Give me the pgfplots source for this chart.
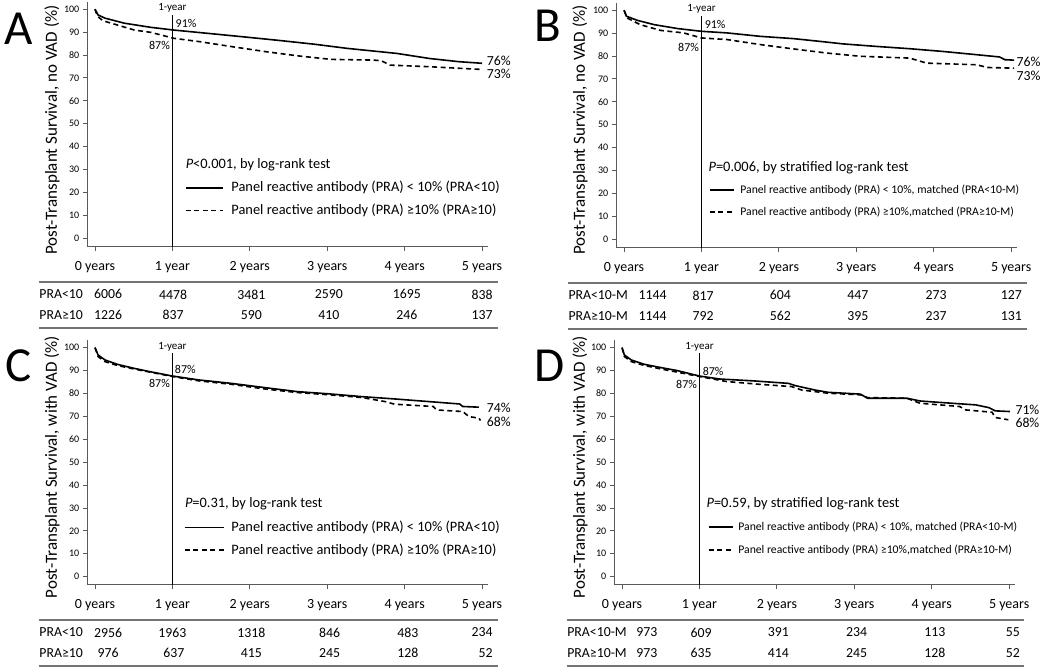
\documentclass[border=0pt]{standalone}
\usepackage{pgfplots}
\pgfplotsset{compat=1.18}
\usepackage{fontspec}
\setmainfont{Carlito}
\tikzset{
  solidkm/.style={black, line width=1.6pt},
  dashkm/.style={black, line width=1.6pt, dash pattern=on 5pt off 3.5pt},
  tab/.style={font=\fontsize{13.8}{16}\selectfont, anchor=center, inner sep=0pt},
  tabl/.style={tab, anchor=west},
  tabr/.style={tab, anchor=east},
  tline/.style={draw=black!55, line width=1.6pt},
  pct/.style={font=\fontsize{12}{14}\selectfont, inner sep=0pt},
  pcte/.style={font=\fontsize{13.8}{16}\selectfont, inner sep=0pt, anchor=west},
  yr/.style={font=\fontsize{11}{13}\selectfont, inner sep=0pt},
  ptext/.style={font=\fontsize{14.4}{17}\selectfont, inner sep=0pt, anchor=west},
  legA/.style={font=\fontsize{14.4}{17}\selectfont, inner sep=0pt, anchor=west},
  legB/.style={font=\fontsize{11.7}{14}\selectfont, inner sep=0pt, anchor=west},
  ylab/.style={font=\fontsize{17}{20}\selectfont, rotate=90, inner sep=0pt},
  letter/.style={font=\fontsize{49}{49}\selectfont, inner sep=0pt},
}
\pgfplotsset{
  km/.style={scale only axis, width=401pt, height=244.6pt,
    xmin=-0.1, xmax=5.08, ymin=-3.6, ymax=103.2, clip=false,
    anchor=south west,
    axis lines=left, axis line style={-, draw=black!65, line width=1pt},
    xtick={0,1,2,3,4,5},
    xticklabels={0 years,1 year,2 years,3 years,4 years,5 years},
    ytick={0,10,20,30,40,50,60,70,80,90,100},
    tick align=outside, major tick length=4.5pt,
    tick style={black!65, line width=0.9pt},
    xticklabel style={font=\fontsize{14}{16}\selectfont, yshift=-6.5pt},
    yticklabel style={font=\fontsize{10}{12}\selectfont},
    /pgf/number format/assume math mode=true},
  yearline/.style={black, line width=1.5pt, forget plot},
}
\begin{document}
\begin{tikzpicture}
\useasboundingbox (0pt,0pt) rectangle (1050pt,-667pt);

% ---------------- Panel A ----------------
\begin{axis}[km, at={(87.26pt,-246.5pt)}]
\addplot[solidkm] coordinates {(0,100) (0.04,97.5) (0.13,96.1) (0.38,93.9) (0.72,92.1) (1.02,90.9) (1.57,89.1) (1.99,87.7) (2.4,86.3) (2.84,84.7) (3.26,82.9) (3.90,80.7) (4.32,78.5) (4.70,77.1) (5.0,76.4)};
\addplot[dashkm] coordinates {(0,100) (0.03,97) (0.1,95) (0.21,93.9) (0.51,90.9) (0.72,89.9) (1.02,87.3) (1.36,85.8) (1.78,83.6) (2.2,81.5) (2.63,79.6) (3.05,78.1) (3.6,77.8) (3.7,77.5) (3.81,75.6) (4.32,74.9) (5.0,73.7)};
\addplot[yearline] coordinates {(1,-3.6) (1,97.5)};
\node[yr] at (axis cs:1,100.5) {1-year};
\node[pct, anchor=west] at (axis cs:1.04,93.6) {91\%};
\node[pct, anchor=east] at (axis cs:0.97,84.4) {87\%};
\node[pcte] at (axis cs:5.06,77.6) {76\%};
\node[pcte] at (axis cs:5.06,71.7) {73\%};
\node[ptext] at (axis cs:1.17,32) {\textit{P}<0.001, by log-rank test};
\draw[solidkm] (axis cs:1.17,22) -- (axis cs:1.65,22);
\node[legA] at (axis cs:1.76,22) {Panel reactive antibody (PRA) < 10\% (PRA<10)};
\draw[dashkm] (axis cs:1.17,12.1) -- (axis cs:1.65,12.1);
\node[legA] at (axis cs:1.76,12.1) {Panel reactive antibody (PRA) ≥10\% (PRA≥10)};
\draw[tline] (axis cs:-0.72,-19.2) -- (axis cs:5.2,-19.2);
\draw[tline] (axis cs:-0.72,-39.1) -- (axis cs:5.2,-39.1);
\node[tabl] at (axis cs:-0.72,-24.5) {PRA<10};
\node[tabl] at (axis cs:-0.72,-33.5) {PRA≥10};
\node[tab] at (axis cs:0.17,-24.5) {6006};
\node[tab] at (axis cs:1.01,-24.5) {4478};
\node[tab] at (axis cs:2.02,-24.5) {3481};
\node[tab] at (axis cs:3.02,-24.5) {2590};
\node[tab] at (axis cs:4.03,-24.5) {1695};
\node[tabr] at (axis cs:5.14,-24.5) {838};
\node[tab] at (axis cs:0.17,-33.5) {1226};
\node[tab] at (axis cs:1.01,-33.5) {837};
\node[tab] at (axis cs:2.02,-33.5) {590};
\node[tab] at (axis cs:3.02,-33.5) {410};
\node[tab] at (axis cs:4.03,-33.5) {246};
\node[tabr] at (axis cs:5.14,-33.5) {137};
\end{axis}

% ---------------- Panel B ----------------
\begin{axis}[km, at={(616.3pt,-247.5pt)}]
\addplot[solidkm] coordinates {(0,100) (0.03,97.4) (0.17,95.6) (0.39,93.7) (0.69,92.0) (1.0,90.8) (1.33,90.1) (1.76,88.6) (2.19,87.6) (2.53,86.4) (2.83,85.3) (3.26,84.2) (3.69,83.2) (4.12,82.0) (4.55,80.6) (4.85,79.6) (4.92,78.4) (5.04,78.2)};
\addplot[dashkm] coordinates {(0,100) (0.04,96.6) (0.21,93.7) (0.47,91.2) (0.77,90.1) (1.0,87.9) (1.33,87.2) (1.76,85.0) (2.19,83.1) (2.62,81.3) (3.05,79.9) (3.69,79.1) (3.8,78) (3.91,76.9) (4.55,76.2) (4.7,75) (5.04,74.7)};
\addplot[yearline] coordinates {(1,-3.6) (1,97.5)};
\node[yr] at (axis cs:1,100.5) {1-year};
\node[pct, anchor=west] at (axis cs:1.04,93.6) {91\%};
\node[pct, anchor=east] at (axis cs:0.97,83.8) {87\%};
\node[pcte] at (axis cs:5.07,77.6) {76\%};
\node[pcte] at (axis cs:5.07,71.3) {73\%};
\node[ptext] at (axis cs:1.09,31.3) {\textit{P}=0.006, by stratified log-rank test};
\draw[solidkm] (axis cs:1.11,21.5) -- (axis cs:1.42,21.5);
\node[legB] at (axis cs:1.50,21.5) {Panel reactive antibody (PRA) < 10\%, matched (PRA<10-M)};
\draw[dashkm] (axis cs:1.11,11.8) -- (axis cs:1.42,11.8);
\node[legB] at (axis cs:1.50,11.8) {Panel reactive antibody (PRA) ≥10\%,matched (PRA≥10-M)};
\draw[tline] (axis cs:-0.72,-19.2) -- (axis cs:5.2,-19.2);
\draw[tline] (axis cs:-0.72,-39.1) -- (axis cs:5.2,-39.1);
\node[tabl] at (axis cs:-0.72,-24.5) {PRA<10-M};
\node[tabl] at (axis cs:-0.72,-33.5) {PRA≥10-M};
\node[tab] at (axis cs:0.37,-24.5) {1144};
\node[tab] at (axis cs:1.02,-24.5) {817};
\node[tab] at (axis cs:2.02,-24.5) {604};
\node[tab] at (axis cs:3.02,-24.5) {447};
\node[tab] at (axis cs:4.03,-24.5) {273};
\node[tabr] at (axis cs:5.14,-24.5) {127};
\node[tab] at (axis cs:0.37,-33.5) {1144};
\node[tab] at (axis cs:1.02,-33.5) {792};
\node[tab] at (axis cs:2.02,-33.5) {562};
\node[tab] at (axis cs:3.02,-33.5) {395};
\node[tab] at (axis cs:4.03,-33.5) {237};
\node[tabr] at (axis cs:5.14,-33.5) {131};
\end{axis}

% ---------------- Panel C ----------------
\begin{axis}[km, at={(87.26pt,-584.9pt)}]
\addplot[solidkm] coordinates {(0,100) (0.04,96.8) (0.13,94.6) (0.29,92.7) (0.5,91.0) (0.71,89.5) (1.0,87.6) (1.34,85.9) (1.76,84.4) (2.18,82.6) (2.61,80.8) (3.03,79.8) (3.45,78.6) (3.87,77.6) (4.29,76.5) (4.71,75.4) (4.75,74.3) (4.96,74.0)};
\addplot[dashkm] coordinates {(0,100) (0.04,96.1) (0.13,93.9) (0.29,92.2) (0.5,90.7) (1.0,87.4) (1.34,85.5) (1.76,84.0) (2.18,82.0) (2.61,80.4) (3.03,79.4) (3.45,78.2) (3.74,76.5) (3.87,75.3) (4.37,74.3) (4.41,72.8) (4.75,72.1) (4.83,69.9) (4.96,69.2) (4.98,68.2)};
\addplot[yearline] coordinates {(1,-3.6) (1,97.5)};
\node[yr] at (axis cs:1,100.5) {1-year};
\node[pct, anchor=west] at (axis cs:1.03,90.4) {87\%};
\node[pct, anchor=east] at (axis cs:0.97,84.3) {87\%};
\node[pcte] at (axis cs:5.06,73.8) {74\%};
\node[pcte] at (axis cs:5.06,67.6) {68\%};
\node[ptext] at (axis cs:1.16,32) {\textit{P}=0.31, by log-rank test};
\draw[solidkm] (axis cs:1.16,21.5) -- (axis cs:1.66,21.5);
\node[legA] at (axis cs:1.76,21.5) {Panel reactive antibody (PRA) < 10\% (PRA<10)};
\draw[dashkm] (axis cs:1.16,11.6) -- (axis cs:1.66,11.6);
\node[legA] at (axis cs:1.76,11.6) {Panel reactive antibody (PRA) ≥10\% (PRA≥10)};
\draw[tline] (axis cs:-0.72,-19.0) -- (axis cs:5.2,-19.0);
\draw[tline] (axis cs:-0.72,-38.9) -- (axis cs:5.2,-38.9);
\node[tabl] at (axis cs:-0.72,-24.4) {PRA<10};
\node[tabl] at (axis cs:-0.72,-33.4) {PRA≥10};
\node[tab] at (axis cs:0.17,-24.4) {2956};
\node[tab] at (axis cs:1.0,-24.4) {1963};
\node[tab] at (axis cs:2.02,-24.4) {1318};
\node[tab] at (axis cs:3.03,-24.4) {846};
\node[tab] at (axis cs:4.04,-24.4) {483};
\node[tabr] at (axis cs:5.14,-24.4) {234};
\node[tab] at (axis cs:0.17,-33.4) {976};
\node[tab] at (axis cs:1.02,-33.4) {637};
\node[tab] at (axis cs:2.02,-33.4) {415};
\node[tab] at (axis cs:3.03,-33.4) {245};
\node[tab] at (axis cs:4.04,-33.4) {128};
\node[tabr] at (axis cs:5.14,-33.4) {52};
\end{axis}

% ---------------- Panel D ----------------
\begin{axis}[km, at={(614.3pt,-584.9pt)}]
\addplot[solidkm] coordinates {(0,100) (0.03,96.8) (0.12,94.6) (0.29,92.7) (0.5,91.3) (0.71,90.0) (1.0,87.6) (1.26,86.3) (1.69,85.5) (2.15,84.4) (2.24,83.4) (2.49,81.5) (2.66,80.5) (3.08,79.7) (3.17,77.9) (3.68,77.9) (3.85,76.7) (4.14,76.0) (4.57,75.0) (4.74,73.8) (4.82,72.4) (5.01,72.1)};
\addplot[dashkm] coordinates {(0,100) (0.03,96.1) (0.12,93.9) (0.29,92.2) (0.5,90.7) (1.0,87.4) (1.35,85.2) (1.77,84.0) (2.19,83.0) (2.32,81.5) (2.66,80.1) (3.08,79.4) (3.17,78.2) (3.68,77.9) (3.85,75.7) (4.36,74.3) (4.44,72.8) (4.78,71.8) (4.82,69.5) (4.99,68.5)};
\addplot[yearline] coordinates {(1,-3.6) (1,97.5)};
\node[yr] at (axis cs:1,100.5) {1-year};
\node[pct, anchor=west] at (axis cs:1.04,89.8) {87\%};
\node[pct, anchor=east] at (axis cs:0.97,84.0) {87\%};
\node[pcte] at (axis cs:5.08,73.0) {71\%};
\node[pcte] at (axis cs:5.08,67.2) {68\%};
\node[ptext] at (axis cs:1.09,32) {\textit{P}=0.59, by stratified log-rank test};
\draw[solidkm] (axis cs:1.12,21.8) -- (axis cs:1.43,21.8);
\node[legB] at (axis cs:1.50,21.8) {Panel reactive antibody (PRA) < 10\%, matched (PRA<10-M)};
\draw[dashkm] (axis cs:1.12,11.6) -- (axis cs:1.43,11.6);
\node[legB] at (axis cs:1.50,11.6) {Panel reactive antibody (PRA) ≥10\%,matched (PRA≥10-M)};
\draw[tline] (axis cs:-0.71,-19.0) -- (axis cs:5.19,-19.0);
\draw[tline] (axis cs:-0.71,-38.9) -- (axis cs:5.19,-38.9);
\node[tabl] at (axis cs:-0.71,-24.4) {PRA<10-M};
\node[tabl] at (axis cs:-0.71,-33.4) {PRA≥10-M};
\node[tab] at (axis cs:0.32,-24.4) {973};
\node[tab] at (axis cs:1.02,-24.4) {609};
\node[tab] at (axis cs:2.02,-24.4) {391};
\node[tab] at (axis cs:3.03,-24.4) {234};
\node[tab] at (axis cs:4.04,-24.4) {113};
\node[tabr] at (axis cs:5.14,-24.4) {55};
\node[tab] at (axis cs:0.32,-33.4) {973};
\node[tab] at (axis cs:1.02,-33.4) {635};
\node[tab] at (axis cs:2.02,-33.4) {414};
\node[tab] at (axis cs:3.03,-33.4) {245};
\node[tab] at (axis cs:4.04,-33.4) {128};
\node[tabr] at (axis cs:5.14,-33.4) {52};
\end{axis}

% ---------------- Labels ----------------
\node[ylab] at (52pt,-130pt) {Post-Transplant Survival, no VAD (\%)};
\node[ylab] at (580pt,-130pt) {Post-Transplant Survival, no VAD (\%)};
\node[ylab] at (52pt,-467pt) {Post-Transplant Survival, with VAD (\%)};
\node[ylab] at (580pt,-467pt) {Post-Transplant Survival, with VAD (\%)};
\node[letter] at (19pt,-28.5pt) {A};
\node[letter] at (548.3pt,-25.8pt) {B};
\node[letter] at (18.3pt,-365.8pt) {C};
\node[letter] at (550pt,-365.8pt) {D};
\end{tikzpicture}
\end{document}
